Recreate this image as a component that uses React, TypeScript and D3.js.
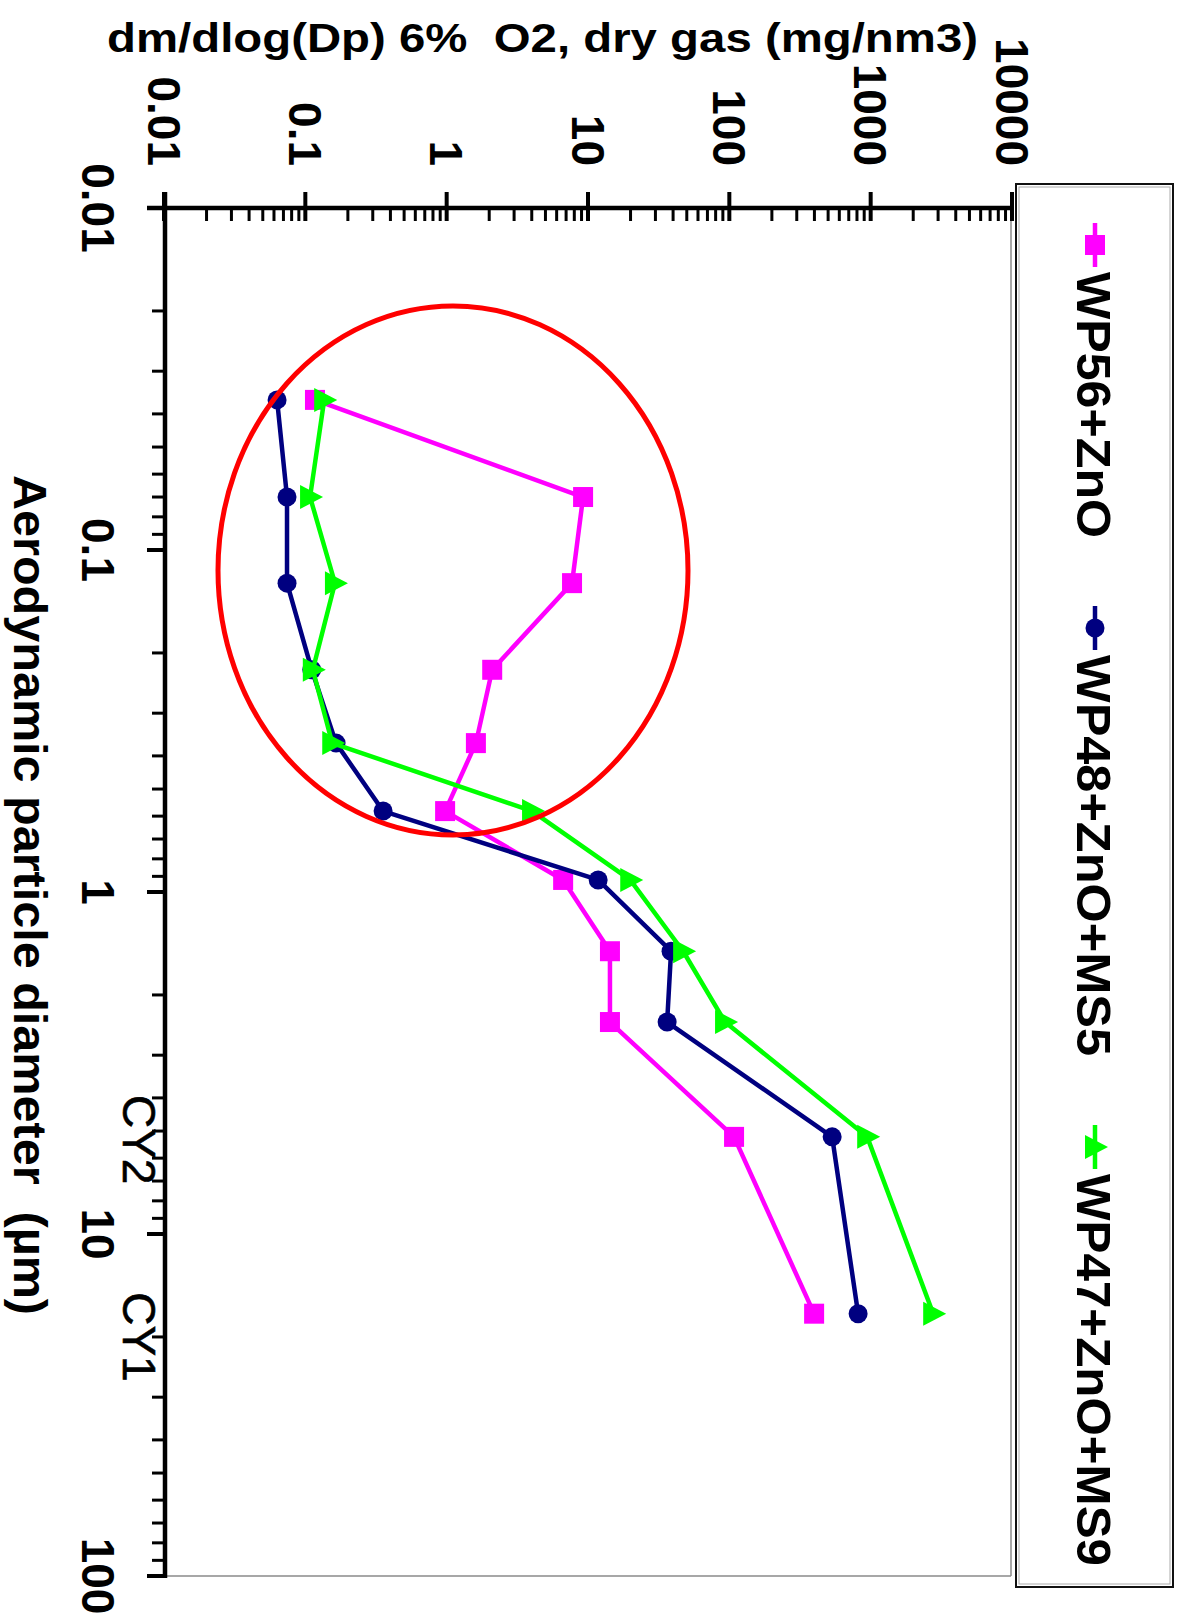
import React from "react";
import * as d3 from "d3";

// ---- data ----
const diameters = [0.0364, 0.07, 0.125, 0.224, 0.367, 0.58, 0.922, 1.49, 2.4, 5.2, 17.1];
const wp56 = [0.117, 9.23, 7.71, 2.1, 1.61, 0.975, 6.67, 14.3, 14.3, 108, 398];
const wp48 = [0.0631, 0.0742, 0.0742, 0.111, 0.165, 0.355, 11.8, 38.7, 36.3, 534, 815];
const wp47 = [0.136, 0.108, 0.162, 0.113, 0.155, 4.02, 19.9, 47.1, 93.3, 945, 2770];

const seriesNames = ["WP56+ZnO", "WP48+ZnO+MS5", "WP47+ZnO+MS9"];
const seriesColors = ["#ff00ff", "#000080", "#00ff00"];
const seriesMarkers = ["square", "circle", "triangle"];

const valueTickLabels = ["0.01", "0.1", "1", "10", "100", "1000", "10000"];
const diameterTickLabels = ["0.01", "0.1", "1", "10", "100"];
const cycloneLabels = ["CY2", "CY1"];
const cycloneDiameters = [5.3, 20.0];

const title = "dm/dlog(Dp) 6%  O2, dry gas (mg/nm3)";
const diameterTitle = "Aerodynamic particle diameter  (µm)";

const W = 1182;
const H = 1620;
const FONT = "'Liberation Sans', Arial, Helvetica, sans-serif";

function Marker({ type, x, y, color }: { type: string; x: number; y: number; color: string }) {
  if (type === "square") {
    return <rect x={x - 10} y={y - 10} width={20} height={20} fill={color} />;
  }
  if (type === "circle") {
    return <circle cx={x} cy={y} r={9.5} fill={color} />;
  }
  // triangle pointing right (rotated chart)
  const p = `${x - 10},${y - 12} ${x - 10},${y + 12} ${x + 13},${y}`;
  return <polygon points={p} fill={color} />;
}

export default function App() {
  // value axis runs horizontally (chart rotated 90° clockwise)
  const xScale = d3.scaleLog().domain([0.01, 10000]).range([164, 1012]);
  // diameter axis runs vertically, increasing downward
  const yScale = d3.scaleLog().domain([0.01, 100]).range([208, 1576]);

  const series = [wp56, wp48, wp47];

  const isMajor = (v: number) => Math.abs(Math.log10(v) - Math.round(Math.log10(v))) < 1e-6;
  const xTicks = xScale.ticks();
  const yTicks = yScale.ticks();

  const line = d3
    .line<[number, number]>()
    .x((d) => xScale(d[1]))
    .y((d) => yScale(d[0]));

  const xMajors = xTicks.filter(isMajor);
  const yMajors = yTicks.filter(isMajor);

  const legendCenters = [245, 628, 1147];
  const legendLengths = [266, 401, 392];

  return (
    <svg
      width={W}
      height={H}
      style={{ position: "absolute", left: 0, top: 0, display: "block", background: "#fff" }}
      fontFamily={FONT}
    >
      <rect x={0} y={0} width={W} height={H} fill="#fff" />

      {/* plot area frame (thin grey) */}
      <line x1={1011} y1={208} x2={1011} y2={1576} stroke="#8a8a8a" strokeWidth={1.5} />
      <line x1={165} y1={1576} x2={1011} y2={1576} stroke="#8a8a8a" strokeWidth={1.5} />

      {/* title */}
      <text
        x={107}
        y={52}
        fontSize={40}
        fontWeight="bold"
        textLength={871}
        lengthAdjust="spacingAndGlyphs"
        style={{ whiteSpace: "pre" }}
      >
        {title}
      </text>

      {/* value axis (top) */}
      <line x1={147} y1={208} x2={1012} y2={208} stroke="#000" strokeWidth={4.5} />
      {xTicks.map((t, i) =>
        isMajor(t) ? (
          <line key={"xt" + i} x1={xScale(t)} x2={xScale(t)} y1={192} y2={221} stroke="#000" strokeWidth={4} />
        ) : (
          <line key={"xt" + i} x1={xScale(t)} x2={xScale(t)} y1={208} y2={221} stroke="#000" strokeWidth={3} />
        )
      )}
      {xMajors.map((t, i) => (
        <text
          key={"xl" + i}
          transform={`translate(${xScale(t) - 16.5},166) rotate(90)`}
          textAnchor="end"
          fontSize={46}
          fontWeight="bold"
        >
          {valueTickLabels[i]}
        </text>
      ))}

      {/* diameter axis (left) */}
      <line x1={165} y1={192} x2={165} y2={1578} stroke="#000" strokeWidth={4.5} />
      {yTicks.map((t, i) =>
        isMajor(t) ? (
          <line key={"yt" + i} x1={147} x2={165} y1={yScale(t)} y2={yScale(t)} stroke="#000" strokeWidth={4} />
        ) : (
          <line key={"yt" + i} x1={152} x2={165} y1={yScale(t)} y2={yScale(t)} stroke="#000" strokeWidth={3} />
        )
      )}
      {yMajors.map((t, i) => (
        <text
          key={"yl" + i}
          transform={`translate(82,${yScale(t)}) rotate(90)`}
          textAnchor="middle"
          fontSize={46}
          fontWeight="bold"
        >
          {diameterTickLabels[i]}
        </text>
      ))}
      {cycloneLabels.map((lab, i) => (
        <text
          key={"cy" + i}
          transform={`translate(123,${yScale(cycloneDiameters[i])}) rotate(90)`}
          textAnchor="middle"
          fontSize={46}
          stroke="#000"
          strokeWidth={0.6}
        >
          {lab}
        </text>
      ))}
      <text
        transform={`translate(14,895) rotate(90)`}
        textAnchor="middle"
        fontSize={47}
        fontWeight="bold"
        textLength={840}
        lengthAdjust="spacingAndGlyphs"
        style={{ whiteSpace: "pre" }}
      >
        {diameterTitle}
      </text>

      {/* series */}
      {series.map((vals, si) => {
        const pts: [number, number][] = diameters.map((d, i) => [d, vals[i]]);
        return (
          <g key={"s" + si}>
            <path d={line(pts) || ""} fill="none" stroke={seriesColors[si]} strokeWidth={4.5} strokeLinejoin="round" />
            {pts.map((p, i) => (
              <Marker key={i} type={seriesMarkers[si]} x={xScale(p[1])} y={yScale(p[0])} color={seriesColors[si]} />
            ))}
          </g>
        );
      })}

      {/* red highlight ellipse */}
      <ellipse cx={453} cy={570.5} rx={235} ry={264.5} fill="none" stroke="#ff0000" strokeWidth={5} />

      {/* legend */}
      <rect x={1016} y={184} width={157} height={1403} fill="#fff" stroke="#111" strokeWidth={2} />
      <rect x={1019} y={187} width={151} height={1397} fill="none" stroke="#aaa" strokeWidth={1} />
      {seriesNames.map((name, i) => (
        <g key={"lg" + i}>
          <line
            x1={1095}
            x2={1095}
            y1={legendCenters[i] - 22}
            y2={legendCenters[i] + 22}
            stroke={seriesColors[i]}
            strokeWidth={4.5}
          />
          <Marker type={seriesMarkers[i]} x={1095} y={legendCenters[i]} color={seriesColors[i]} />
          <text
            transform={`translate(1077,${legendCenters[i] + 27}) rotate(90)`}
            textAnchor="start"
            fontSize={49}
            fontWeight="bold"
            textLength={legendLengths[i]}
            lengthAdjust="spacingAndGlyphs"
          >
            {name}
          </text>
        </g>
      ))}
    </svg>
  );
}
